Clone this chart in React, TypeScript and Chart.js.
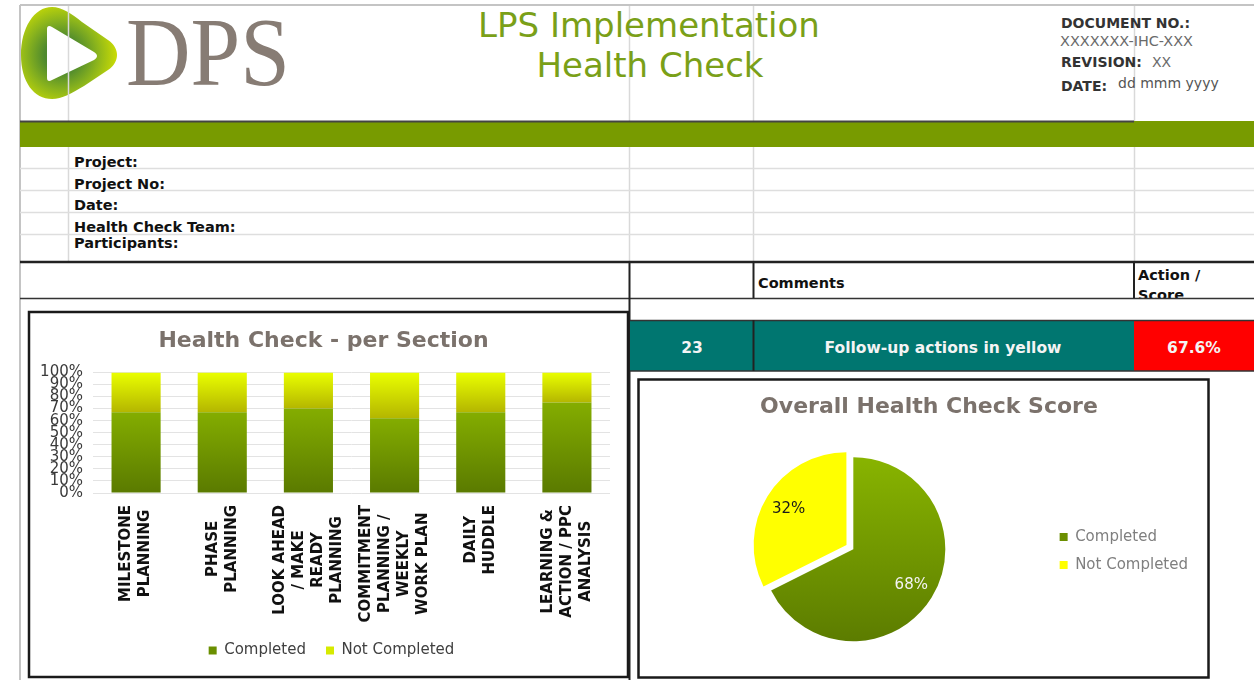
import React, { useEffect, useRef } from 'react';
import { Chart, registerables } from 'chart.js';

Chart.register(...registerables);

const FONT = "'DejaVu Sans', Verdana, sans-serif";

// ---- data ----
const sectionLabels: string[][] = [
  ['MILESTONE', 'PLANNING'],
  ['PHASE', 'PLANNING'],
  ['LOOK AHEAD', '/ MAKE', 'READY', 'PLANNING'],
  ['COMMITMENT', 'PLANNING /', 'WEEKLY', 'WORK PLAN'],
  ['DAILY', 'HUDDLE'],
  ['LEARNING &', 'ACTION / PPC', 'ANALYSIS'],
];
const completedPct = [67, 67, 70, 62, 67, 75];
const notCompletedPct = [33, 33, 30, 38, 33, 25];
const seriesNames = ['Completed', 'Not Completed'];

const overallLabels = ['Completed', 'Not Completed'];
const overallValues = [67.6, 32.4];

const infoLabels = ['Project:', 'Project No:', 'Date:', 'Health Check Team:', 'Participants:'];
const actionCount = '23';
const actionText = 'Follow-up actions in yellow';
const overallScore = '67.6%';

// ---- colours ----
const barLegendColors = ['#6a8f00', '#d6ea00'];
const pieLegendColors = ['#6b8f00', '#ffff00'];

const barGreen = (c: any) => {
  const chart = c.chart;
  const y = chart.scales && chart.scales.y;
  if (c.type !== 'data' || !y || !chart.chartArea) return '#6f9400';
  const top = y.getPixelForValue(completedPct[c.dataIndex]);
  const bottom = y.getPixelForValue(0);
  const g = chart.ctx.createLinearGradient(0, top, 0, bottom);
  g.addColorStop(0, '#84ad00');
  g.addColorStop(1, '#5a7a00');
  return g;
};
const barYellow = (c: any) => {
  const chart = c.chart;
  const y = chart.scales && chart.scales.y;
  if (c.type !== 'data' || !y || !chart.chartArea) return '#d6ea00';
  const top = y.getPixelForValue(100);
  const bottom = y.getPixelForValue(completedPct[c.dataIndex]);
  const g = chart.ctx.createLinearGradient(0, top, 0, bottom);
  g.addColorStop(0, '#eaff00');
  g.addColorStop(1, '#b4b600');
  return g;
};
const PIE_R = 92;
const PIE_OFFSET = 8;
const pieColor = (c: any) => {
  if (c.dataIndex === 1) return '#ffff00';
  const ca = c.chart.chartArea;
  if (!ca) return '#6f9400';
  const cy = (ca.top + ca.bottom) / 2;
  const g = c.chart.ctx.createLinearGradient(0, cy - PIE_R, 0, cy + PIE_R);
  g.addColorStop(0, '#88b400');
  g.addColorStop(1, '#5c7c00');
  return g;
};

const xLabelPlugin = {
  id: 'xLabelsCentered',
  afterLayout(chart: any) {
    // the reference legend sits a little right of the canvas centre
    const lg = chart.legend;
    if (lg) {
      lg.left += 8;
      lg.right += 8;
    }
  },
  afterDraw(chart: any) {
    const { ctx } = chart;
    const x = chart.scales.x;
    ctx.save();
    ctx.font = `bold 15px ${FONT}`;
    ctx.fillStyle = '#111111';
    ctx.textAlign = 'center';
    ctx.textBaseline = 'middle';
    const lh = 19;
    const top = x.top + 12;
    sectionLabels.forEach((lines, i) => {
      const cx = x.getPixelForValue(i);
      const maxW = Math.max(...lines.map((l) => ctx.measureText(l).width));
      lines.forEach((line, j) => {
        const lx = cx + (j - (lines.length - 1) / 2) * lh;
        ctx.save();
        ctx.translate(lx, top + maxW / 2);
        ctx.rotate(-Math.PI / 2);
        ctx.fillText(line, 0, 0);
        ctx.restore();
      });
    });
    ctx.restore();
  },
};

const pieLabelPlugin = {
  id: 'pieLabels',
  afterDatasetsDraw(chart: any) {
    const meta = chart.getDatasetMeta(0);
    const ctx = chart.ctx;
    const total = overallValues.reduce((a, b) => a + b, 0);
    ctx.save();
    ctx.font = `15px ${FONT}`;
    ctx.textAlign = 'center';
    ctx.textBaseline = 'middle';
    meta.data.forEach((arc: any, i: number) => {
      const p = arc.getProps(['x', 'y', 'startAngle', 'endAngle', 'outerRadius'], true);
      const mid = (p.startAngle + p.endAngle) / 2;
      const off = i === 1 ? PIE_OFFSET : 0;
      const d = p.outerRadius * 0.74 + off;
      ctx.fillStyle = i === 0 ? '#f4f4f4' : '#1a1a1a';
      ctx.fillText(Math.round((overallValues[i] / total) * 100) + '%', p.x + Math.cos(mid) * d, p.y + Math.sin(mid) * d);
    });
    ctx.restore();
  },
};

function Sheet() {
  const light = '#d9d9d9';
  const dark = '#222';
  const infoBaselines = [167, 188.5, 210, 232, 247.5];
  return (
    <svg width={1254} height={680} style={{ position: 'absolute', left: 0, top: 0 }} fontFamily="DejaVu Sans">
      <defs>
        <radialGradient id="logoGrad" cx="62" cy="55" r="58" gradientUnits="userSpaceOnUse">
          <stop offset="0.3" stopColor="#4f8a2e" />
          <stop offset="0.62" stopColor="#8cb51c" />
          <stop offset="1" stopColor="#d4e200" />
        </radialGradient>
      </defs>
      {/* logo */}
      <path
        d="M 52 7 C 34 7, 21 28, 21 55 C 21 82, 34 99, 52 99 C 62 99, 72 93, 84 86 L 108 70 C 120 62, 120 48, 108 40 L 82 22 C 72 14, 62 7, 52 7 Z M 47 29 C 47 26, 49 25, 52 27 L 94 52 C 98 54.5, 98 57.5, 94 60 L 52 80 C 49 82, 47 81, 47 78 Z"
        fill="url(#logoGrad)"
        fillRule="evenodd"
      />
      <text x={126} y={85} fontFamily="'Liberation Serif', 'Times New Roman', serif" fontSize={98} fill="#877c74" textLength={164} lengthAdjust="spacingAndGlyphs">DPS</text>

      {/* light sheet grid */}
      <line x1={20} y1={5} x2={1254} y2={5} stroke="#c4c4c4" strokeWidth={2} />
      <line x1={20} y1={5} x2={20} y2={680} stroke="#c4c4c4" strokeWidth={2} />
      {[68.5, 629.5, 753.5, 1134.5].map((x) => (
        <g key={x}>
          <line x1={x} y1={6} x2={x} y2={121} stroke={light} strokeWidth={1.5} />
          <line x1={x} y1={147} x2={x} y2={262} stroke={light} strokeWidth={1.5} />
        </g>
      ))}
      {[168.5, 190.5, 212.5, 234.5].map((y) => (
        <line key={y} x1={20} y1={y} x2={1254} y2={y} stroke="#dedede" strokeWidth={1.5} />
      ))}

      {/* header title */}
      <text x={649} y={37} textAnchor="middle" fontSize={34} fill="#7aa018">LPS Implementation</text>
      <text x={650} y={77} textAnchor="middle" fontSize={34} fill="#7aa018">Health Check</text>

      {/* document info */}
      <text x={1061} y={28} fontSize={14} fontWeight="bold" fill="#333">DOCUMENT NO.:</text>
      <text x={1060} y={46} fontSize={14} fill="#6a6a6a" textLength={133} lengthAdjust="spacingAndGlyphs">XXXXXXX-IHC-XXX</text>
      <text x={1061} y={67} fontSize={14} fontWeight="bold" fill="#333">REVISION:</text>
      <text x={1152} y={67} fontSize={14} fill="#6a6a6a">XX</text>
      <text x={1061} y={91} fontSize={14} fontWeight="bold" fill="#333">DATE:</text>
      <text x={1118} y={88} fontSize={14} fill="#555">dd mmm yyyy</text>

      {/* green band */}
      <rect x={20} y={121} width={1234} height={26} fill="#789b00" />
      <line x1={20} y1={121.5} x2={1134} y2={121.5} stroke="#444" strokeWidth={2} />

      {/* info labels */}
      {infoLabels.map((t, i) => (
        <text key={t} x={74} y={infoBaselines[i]} fontSize={14.5} fontWeight="bold" fill="#111">{t}</text>
      ))}

      {/* comments header row */}
      <text x={758} y={288} fontSize={14.5} fontWeight="bold" fill="#111">Comments</text>
      <text x={1138} y={280} fontSize={14.5} fontWeight="bold" fill="#111">Action /</text>
      <text x={1138} y={300} fontSize={14.5} fontWeight="bold" fill="#111">Score</text>
      <rect x={1135} y={299} width={119} height={21} fill="#fff" />
      <line x1={20} y1={262} x2={1254} y2={262} stroke={dark} strokeWidth={2.5} />
      <line x1={20} y1={298.5} x2={1254} y2={298.5} stroke="#333" strokeWidth={1.5} />
      <line x1={629.5} y1={262} x2={629.5} y2={680} stroke={dark} strokeWidth={2} />
      <line x1={753.5} y1={262} x2={753.5} y2={298} stroke={dark} strokeWidth={2} />
      <line x1={1134} y1={262} x2={1134} y2={298} stroke={dark} strokeWidth={2} />

      {/* teal / red row */}
      <rect x={630} y={320} width={504} height={51} fill="#007670" />
      <rect x={1134} y={320} width={120} height={51} fill="#ff0000" />
      <line x1={630} y1={320.5} x2={1254} y2={320.5} stroke="#333" strokeWidth={1.5} />
      <line x1={630} y1={371} x2={1254} y2={371} stroke="#333" strokeWidth={1.5} />
      <line x1={753.5} y1={320} x2={753.5} y2={371} stroke={dark} strokeWidth={2} />
      <text x={692} y={353} textAnchor="middle" fontSize={15.5} fontWeight="bold" fill="#f4f4f4">{actionCount}</text>
      <text x={943} y={353} textAnchor="middle" fontSize={15.5} fontWeight="bold" fill="#f4f4f4">{actionText}</text>
      <text x={1194} y={353} textAnchor="middle" fontSize={15.5} fontWeight="bold" fill="#f4f4f4">{overallScore}</text>

      {/* chart boxes */}
      <rect x={29} y={312} width={599} height={365} fill="none" stroke="#1a1a1a" strokeWidth={2.5} />
      <rect x={638.5} y={379.5} width={570} height={298} fill="none" stroke="#1a1a1a" strokeWidth={2.5} />
    </svg>
  );
}

export default function App() {
  const barRef = useRef<HTMLCanvasElement>(null);
  const pieRef = useRef<HTMLCanvasElement>(null);

  useEffect(() => {
    const bar = new Chart(barRef.current as HTMLCanvasElement, {
      type: 'bar',
      data: {
        labels: sectionLabels as any,
        datasets: [
          { label: seriesNames[0], data: completedPct, backgroundColor: barGreen as any, barPercentage: 0.57, categoryPercentage: 1, borderWidth: 0 },
          { label: seriesNames[1], data: notCompletedPct, backgroundColor: barYellow as any, barPercentage: 0.57, categoryPercentage: 1, borderWidth: 0 },
        ],
      },
      options: {
        animation: false,
        responsive: false,
        layout: { padding: { left: 6, right: 16, top: 0, bottom: 7 } },
        plugins: {
          title: {
            display: true,
            text: 'Health Check - per Section',
            color: '#7b726c',
            font: { family: FONT, size: 22, weight: 'bold' },
            padding: { top: 14, bottom: 18 },
          },
          legend: {
            position: 'bottom',
            labels: {
              boxWidth: 8,
              boxHeight: 8,
              padding: 20,
              color: '#404040',
              font: { family: FONT, size: 15 },
              generateLabels: () =>
                seriesNames.map((t, i) => ({
                  text: t,
                  fillStyle: barLegendColors[i],
                  strokeStyle: barLegendColors[i],
                  fontColor: '#404040',
                  lineWidth: 0,
                  hidden: false,
                  datasetIndex: i,
                })) as any,
            },
          },
          tooltip: { enabled: false },
        },
        scales: {
          x: {
            stacked: true,
            grid: { display: false },
            border: { display: false },
            ticks: { display: false },
            afterFit: (s: any) => {
              s.height = 130;
            },
          },
          y: {
            stacked: true,
            min: 0,
            max: 100,
            grid: { color: '#e3e3e3', drawTicks: false },
            border: { display: false },
            ticks: {
              stepSize: 10,
              autoSkip: false,
              padding: 10,
              color: '#3a3a3a',
              font: { family: FONT, size: 15 },
              callback: (v: any) => `${v}%`,
            },
            afterFit: (s: any) => {
              s.width = 56;
            },
          },
        },
      },
      plugins: [xLabelPlugin],
    });

    const pie = new Chart(pieRef.current as HTMLCanvasElement, {
      type: 'pie',
      data: {
        labels: overallLabels,
        datasets: [
          {
            data: overallValues,
            backgroundColor: pieColor as any,
            borderWidth: 0,
            offset: [0, PIE_OFFSET * 4],
            radius: PIE_R,
          } as any,
        ],
      },
      options: {
        animation: false,
        responsive: false,
        layout: { padding: { left: 19, right: 8, top: 0, bottom: 12 } },
        plugins: {
          title: {
            display: true,
            text: 'Overall Health Check Score',
            color: '#7b726c',
            font: { family: FONT, size: 22, weight: 'bold' },
            padding: { top: 12, bottom: 14 },
          },
          legend: {
            position: 'right',
            title: { display: true, text: ' ', padding: 22, font: { family: FONT, size: 10 } },
            labels: {
              boxWidth: 8,
              boxHeight: 8,
              padding: 13,
              color: '#7f7f7f',
              font: { family: FONT, size: 15 },
              generateLabels: () =>
                overallLabels.map((t, i) => ({
                  text: t,
                  fillStyle: pieLegendColors[i],
                  strokeStyle: pieLegendColors[i],
                  fontColor: '#7f7f7f',
                  lineWidth: 0,
                  hidden: false,
                  index: i,
                })) as any,
            },
          },
          tooltip: { enabled: false },
        },
      },
      plugins: [pieLabelPlugin],
    });

    return () => {
      bar.destroy();
      pie.destroy();
    };
  }, []);

  return (
    <div style={{ position: 'absolute', left: 0, top: 0, width: 1254, height: 680, overflow: 'hidden', background: '#fff' }}>
      <Sheet />
      <canvas ref={barRef} width={595} height={361} style={{ position: 'absolute', left: 31, top: 314, width: 595, height: 361 }} />
      <canvas ref={pieRef} width={565} height={294} style={{ position: 'absolute', left: 641, top: 382, width: 565, height: 294 }} />
    </div>
  );
}
